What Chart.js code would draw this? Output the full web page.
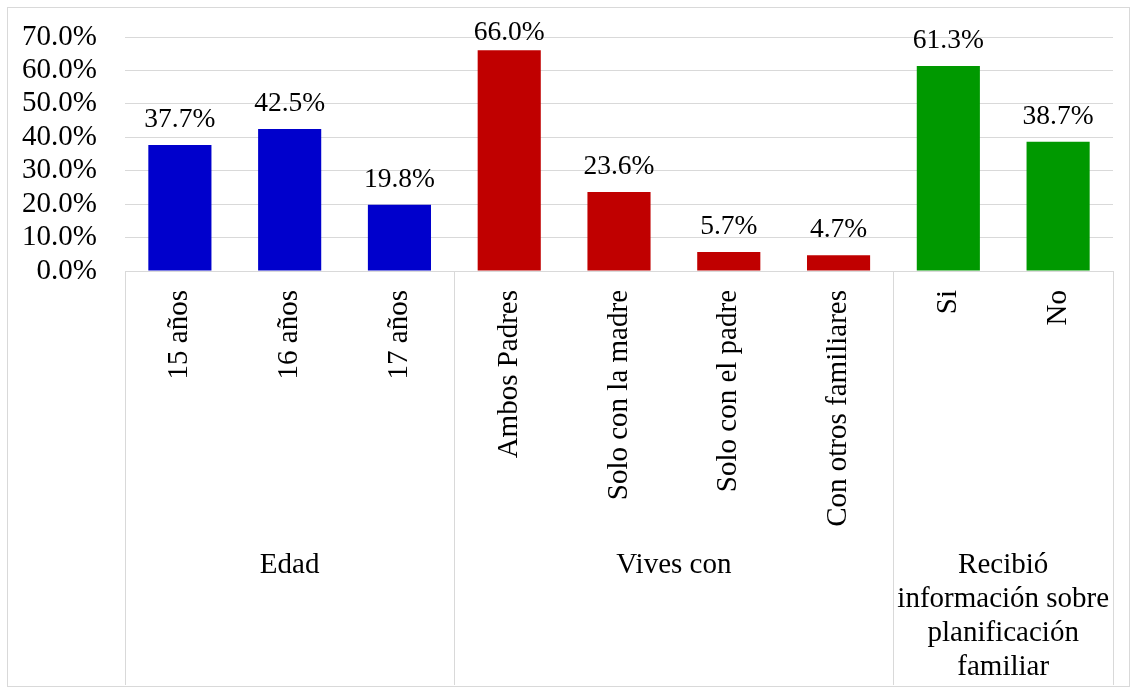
<!DOCTYPE html>
<html>
<head>
<meta charset="utf-8">
<script src="https://cdn.jsdelivr.net/npm/chart.js@4/dist/chart.umd.min.js"></script>
<style>
    html, body { margin: 0; padding: 0; background: #fff; overflow: hidden; }
    #wrap { position: relative; width: 1137px; height: 693px; }
</style>
</head>
<body>
<div id="wrap"><canvas id="grafico"></canvas></div>
<script>
// Datos del gráfico
const categorias = ['15 años', '16 años', '17 años', 'Ambos Padres', 'Solo con la madre',
    'Solo con el padre', 'Con otros familiares', 'Si', 'No'];
const valores = [37.7, 42.5, 19.8, 66.0, 23.6, 5.7, 4.7, 61.3, 38.7];
const grupos = [['Edad'], ['Vives con'], ['Recibió', 'información sobre', 'planificación', 'familiar']];
const tamanoGrupos = [3, 4, 2];
const coloresGrupo = ['#0000CC', '#C00000', '#009900'];
const ticksY = [0, 10, 20, 30, 40, 50, 60, 70];

const fuente = '"Liberation Serif", "Times New Roman", serif';
const gris = '#d9d9d9';

// color de cada barra según su grupo
const coloresBarras = [];
tamanoGrupos.forEach((n, g) => { for (let i = 0; i < n; i++) coloresBarras.push(coloresGrupo[g]); });

// Borde exterior, etiquetas de datos y eje de dos niveles
const pluginExtras = {
    id: 'extras',
    beforeDraw(chart) {
        const ctx = chart.ctx;
        ctx.save();
        ctx.strokeStyle = gris;
        ctx.lineWidth = 1;
        ctx.strokeRect(7.5, 7.5, 1122, 679);
        ctx.restore();
    },
    afterDraw(chart) {
        const ctx = chart.ctx;
        const x = chart.scales.x;
        const area = chart.chartArea;
        const paso = x.width / categorias.length;
        const fondo = 685;

        ctx.save();
        // etiquetas sobre las barras (sin salirse por arriba)
        ctx.font = '27.5px ' + fuente;
        ctx.fillStyle = '#000';
        ctx.textAlign = 'center';
        ctx.textBaseline = 'alphabetic';
        chart.getDatasetMeta(0).data.forEach((bar, i) => {
            ctx.fillText(valores[i].toFixed(1) + '%', bar.x, Math.max(bar.y - 18, 40));
        });

        // líneas divisorias y nombres de grupo
        ctx.strokeStyle = gris;
        ctx.lineWidth = 1;
        let inicio = 0;
        const bordes = [0];
        tamanoGrupos.forEach(n => { inicio += n; bordes.push(inicio); });
        bordes.forEach(b => {
            const px = Math.round(x.getPixelForValue(b) - paso / 2) + 0.5;
            ctx.beginPath();
            ctx.moveTo(px, area.bottom);
            ctx.lineTo(px, fondo);
            ctx.stroke();
        });

        ctx.font = '29px ' + fuente;
        ctx.textBaseline = 'middle';
        grupos.forEach((lineas, g) => {
            const a = x.getPixelForValue(bordes[g]) - paso / 2;
            const b = x.getPixelForValue(bordes[g + 1]) - paso / 2;
            lineas.forEach((t, k) => ctx.fillText(t, (a + b) / 2, 565 + k * 34));
        });
        ctx.restore();
    }
};

new Chart(document.getElementById('grafico'), {
    type: 'bar',
    data: {
        labels: categorias,
        datasets: [{
            data: valores,
            backgroundColor: coloresBarras,
            borderWidth: 0,
            categoryPercentage: 1,
            barPercentage: 0.575
        }]
    },
    options: {
        responsive: true,
        maintainAspectRatio: false,
        animation: false,
        layout: { padding: { top: 37, right: 24, bottom: 8, left: 0 } },
        plugins: { legend: { display: false }, tooltip: { enabled: false } },
        scales: {
            x: {
                afterFit: s => { s.height = 414; s.paddingLeft = 0; s.paddingRight = 0; },
                grid: { display: false, drawTicks: false },
                border: { display: true, color: gris },
                ticks: {
                    autoSkip: false,
                    minRotation: 90,
                    maxRotation: 90,
                    padding: 19,
                    color: '#000',
                    font: { family: fuente, size: 29 }
                }
            },
            y: {
                min: 0,
                max: 70,
                afterFit: s => { s.width = 125; s.paddingTop = 0; s.paddingBottom = 0; },
                afterBuildTicks: s => { s.ticks = ticksY.map(v => ({ value: v })); },
                grid: { color: gris, drawTicks: false },
                border: { display: false },
                ticks: {
                    autoSkip: false,
                    padding: 28,
                    color: '#000',
                    font: { family: fuente, size: 29 },
                    callback: v => v.toFixed(1) + '%'
                }
            }
        }
    },
    plugins: [pluginExtras]
});
</script>
</body>
</html>
